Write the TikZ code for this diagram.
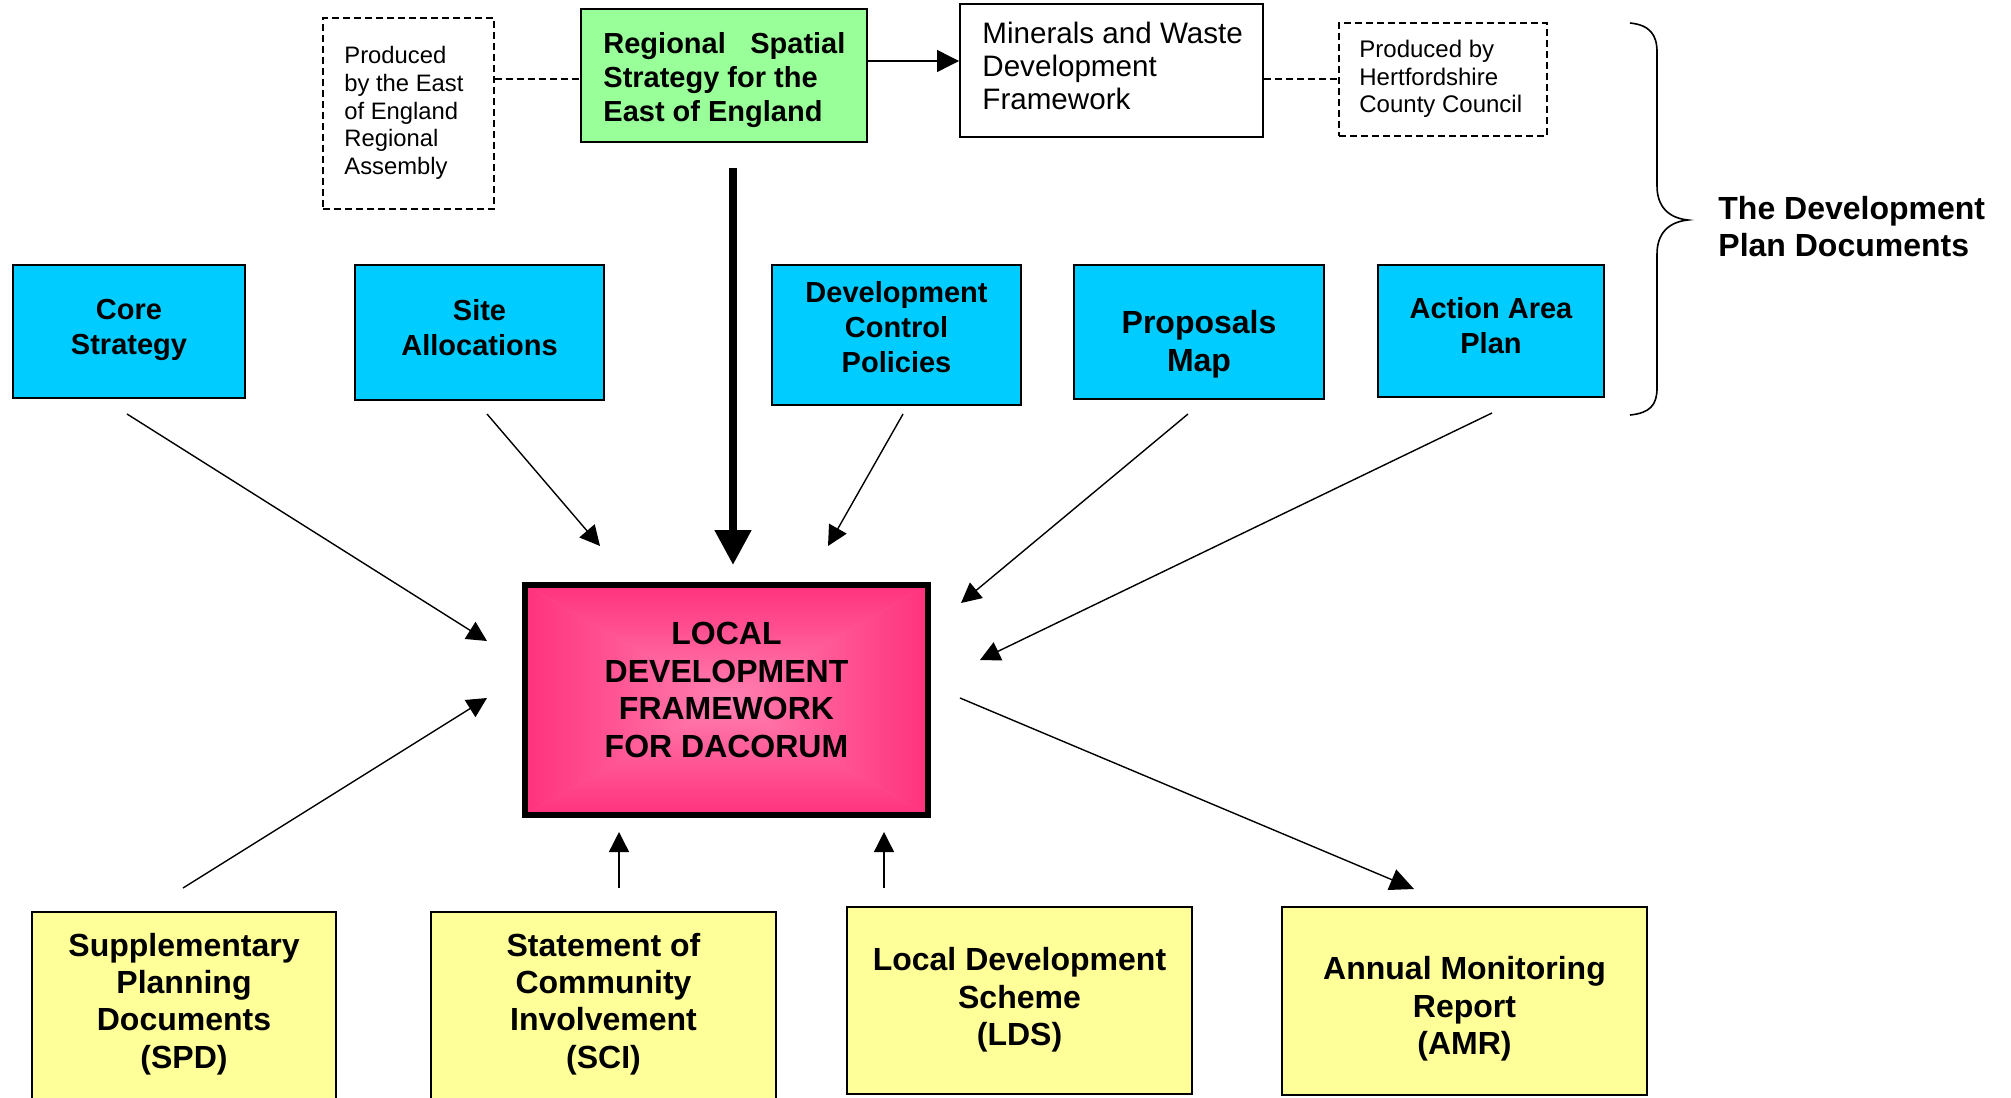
\documentclass[tikz,border=0pt]{standalone}
\usepackage{fontspec}
\setmainfont{Liberation Sans}
\usetikzlibrary{arrows.meta,fit}
\definecolor{cyanbox}{HTML}{00CCFF}
\definecolor{greenbox}{HTML}{99FF99}
\definecolor{yellowbox}{HTML}{FFFF99}
\definecolor{ldfdeep}{RGB}{255,10,100}
\definecolor{ldfmid}{RGB}{255,105,160}
\definecolor{ldflight}{RGB}{255,168,210}
\pgfdeclareverticalshading{ldfv}{100bp}{color(0bp)=(ldflight); color(40bp)=(ldfmid); color(100bp)=(ldfdeep)}
\begin{document}
\begin{tikzpicture}[x=0.5pt,y=-0.5pt,
  box/.style={draw=black, line width=1pt, inner sep=0pt},
  dbox/.style={draw=black, line width=0.7pt, dash pattern=on 3.5pt off 2pt, inner sep=0pt},
  bluebox/.style={box, fill=cyanbox},
  yelbox/.style={box, fill=yellowbox},
  smalltxt/.style={font=\fontsize{11.9}{13.8}\selectfont, align=left, inner sep=0pt, anchor=west},
  btxt/.style={font=\bfseries\fontsize{14.5}{17.5}\selectfont, align=center, inner sep=0pt},
  bigtxt/.style={font=\bfseries\fontsize{16}{18.7}\selectfont, align=center, inner sep=0pt},
  arr/.style={line width=0.7pt, -{Triangle[length=10pt,width=10pt]}},
  dline/.style={line width=0.7pt, dash pattern=on 3.5pt off 2pt},
]
\useasboundingbox (0,0) rectangle (2011,1097);
\clip (0,0) rectangle (2011,1097);

% ---------- top row ----------
\node[dbox, fit={(323,18) (494,209)}] (east) {};
\node[smalltxt] (eastt) at (344,113) {Produced\\by the East\\of England\\Regional\\Assembly};

\node[box, fill=greenbox, fit={(581,9) (867,142)}] (rss) {};
\node[font=\bfseries\fontsize{14.5}{17.2}\selectfont, align=left, inner sep=0pt, anchor=west] (rsst) at (603,80)
  {\makebox[121pt][s]{Regional Spatial}\\Strategy for the\\East of England};

\node[box, fit={(960,4) (1263,137)}] (mwdf) {};
\node[font=\fontsize{14.8}{16.6}\selectfont, align=left, inner sep=0pt, anchor=west] (mwdft) at (982,66)
  {Minerals and Waste\\Development\\Framework};

\node[dbox, fit={(1339,23) (1547,136)}] (herts) {};
\node[font=\fontsize{12}{13.8}\selectfont, align=left, inner sep=0pt, anchor=west] (hertst) at (1359,79)
  {Produced by\\Hertfordshire\\County Council};

\draw[dline] (east.east |- 0,79) -- (rss.west |- 0,79);
\draw[dline] (mwdf.east |- 0,79) -- (herts.west |- 0,79);
\draw[line width=0.7pt, -{Triangle[length=11pt,width=11pt]}] (rss.east |- 0,61) -- (mwdf.west |- 0,61);

% brace
\draw[line width=0.8pt] (1630,23) .. controls (1650,25) and (1657,35) .. (1657,52)
  -- (1657,186) .. controls (1657,206) and (1668,218) .. (1688,220)
  .. controls (1668,222) and (1657,234) .. (1657,254)
  -- (1657,388) .. controls (1657,405) and (1650,413) .. (1630,415);
\node[font=\bfseries\fontsize{16}{18.5}\selectfont, align=left, inner sep=0pt, anchor=west] (tdpd) at (1718,227)
  {The Development\\Plan Documents};

% ---------- blue row ----------
\node[bluebox, fit={(13,265) (245,398)}] (core) {};
\node[btxt] (coret) at (129,330) {Core\\Strategy};
\node[bluebox, fit={(355,265) (604,400)}] (site) {};
\node[btxt] (sitet) at (479.5,328) {Site\\Allocations};
\node[bluebox, fit={(772,265) (1021,405)}] (dcp) {};
\node[btxt] (dcpt) at (896.5,327) {Development\\Control\\Policies};
\node[bluebox, fit={(1074,265) (1324,399)}] (prop) {};
\node[bigtxt, font=\bfseries\fontsize{16}{19}\selectfont] (propt) at (1199,344) {Proposals\\Map};
\node[bluebox, fit={(1378,265) (1604,397)}] (aap) {};
\node[btxt] (aapt) at (1491,326) {Action Area\\Plan};

% ---------- central box ----------
\fill[ldfmid] (525,585) rectangle (928,815);
\shade[shading=ldfv] (525,585) -- (928,585) -- (726.5,700) -- cycle;
\shade[shading=ldfv, shading angle=180] (525,815) -- (928,815) -- (726.5,700) -- cycle;
\shade[shading=ldfv, shading angle=90] (525,585) -- (525,815) -- (726.5,700) -- cycle;
\shade[shading=ldfv, shading angle=270] (928,585) -- (928,815) -- (726.5,700) -- cycle;
\node[draw=black, line width=3pt, inner sep=0pt, fit={(525,585) (928,815)}] (ldf) {};
\node[bigtxt, font=\bfseries\fontsize{16}{18.8}\selectfont] (ldft) at (726.5,690)
  {LOCAL\\DEVELOPMENT\\FRAMEWORK\\FOR DACORUM};

% ---------- yellow row ----------
\node[yelbox, fit={(32,912) (336,1130)}] (spd) {};
\node[bigtxt] (spdt) at (184,1004) {Supplementary\\Planning\\Documents\\(SPD)};
\node[yelbox, fit={(431,912) (776,1130)}] (sci) {};
\node[bigtxt] (scit) at (603.5,1004) {Statement of\\Community\\Involvement\\(SCI)};
\node[yelbox, fit={(847,907) (1192,1094)}] (lds) {};
\node[bigtxt] (ldst) at (1019.5,1000) {Local Development\\Scheme\\(LDS)};
\node[yelbox, fit={(1282,907) (1647,1095)}] (amr) {};
\node[bigtxt] (amrt) at (1464.5,1009) {Annual Monitoring\\Report\\(AMR)};

% ---------- connectors ----------
\coordinate (c1) at (127,414);  \coordinate (c1e) at (487,641);
\coordinate (c2) at (487,414);  \coordinate (c2e) at (600,546);
\coordinate (c3) at (903,414);  \coordinate (c3e) at (828,546);
\coordinate (c4) at (1188,414); \coordinate (c4e) at (961,603);
\coordinate (c5) at (1492,413); \coordinate (c5e) at (980,660);
\coordinate (c6) at (183,888);  \coordinate (c6e) at (487,698);
\coordinate (c7) at (619,888);  \coordinate (c7e) at (619,832);
\coordinate (c8) at (884,888);  \coordinate (c8e) at (884,832);
\coordinate (c9) at (960,698);  \coordinate (c9e) at (1414,889);
\coordinate (t1) at (733,168);  \coordinate (t1e) at (733,565);

\draw[arr] (c1) -- (c1e);
\draw[arr] (c2) -- (c2e);
\draw[arr] (c3) -- (c3e);
\draw[arr] (c4) -- (c4e);
\draw[arr] (c5) -- (c5e);
\draw[arr] (c6) -- (c6e);
\draw[arr] (c7) -- (c7e);
\draw[arr] (c8) -- (c8e);
\draw[line width=0.7pt, -{Triangle[length=12pt,width=11pt]}] (c9) -- (c9e);
\draw[line width=4pt, -{Triangle[length=17.5pt,width=17.5pt]}] (t1) -- (t1e);
\end{tikzpicture}
\end{document}
